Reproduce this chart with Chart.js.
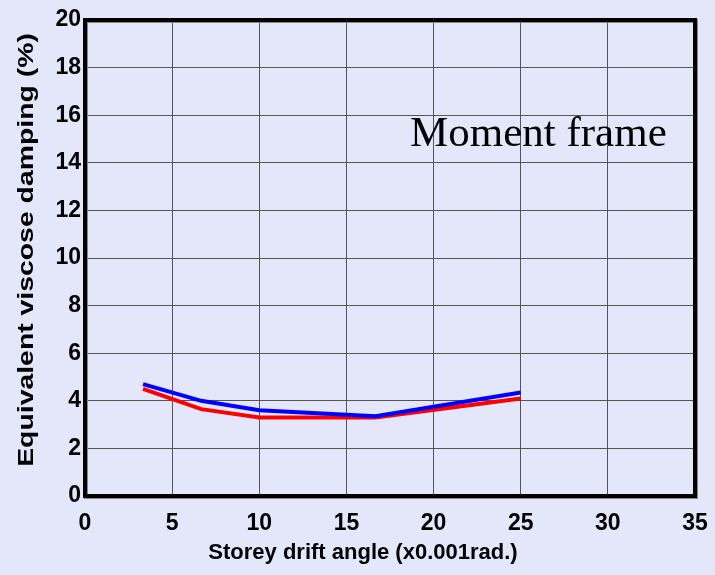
<!DOCTYPE html>
<html>
<head>
<meta charset="utf-8">
<script src="https://cdn.jsdelivr.net/npm/chart.js@4/dist/chart.umd.min.js"></script>
<style>
  html, body { margin: 0; padding: 0; background: #E4E6FA; }
  #wrap { width: 715px; height: 575px; }
</style>
</head>
<body>
<div id="wrap"><canvas id="myChart" width="715" height="575"></canvas></div>
<script>
// drift angle (x0.001 rad)
const drift = [3.33, 6.67, 10, 16.67, 25];
const blueDamping = [4.7, 4.0, 3.6, 3.35, 4.35];
const redDamping = [4.5, 3.65, 3.3, 3.3, 4.1];
const xTicks = [0, 5, 10, 15, 20, 25, 30, 35];
const yTicks = [0, 2, 4, 6, 8, 10, 12, 14, 16, 18, 20];

const tickFont = { family: "'Liberation Sans', Arial", size: 23, weight: 'bold' };

const toPoints = (ys) => drift.map((x, i) => ({ x: x, y: ys[i] }));

// frame, axis titles (placed like the original) and label
const framePlugin = {
    id: 'frame',
    afterDraw(chart) {
        const ctx = chart.ctx;
        const a = chart.chartArea;
        ctx.save();
        ctx.strokeStyle = '#888';
        ctx.lineWidth = 4;
        ctx.strokeRect(a.left + 1, a.top + 1, a.right - a.left, a.bottom - a.top);
        ctx.strokeStyle = '#000';
        ctx.strokeRect(a.left, a.top, a.right - a.left, a.bottom - a.top);

        ctx.fillStyle = '#000';
        ctx.font = "43px 'Liberation Serif', 'Times New Roman', serif";
        ctx.textBaseline = 'alphabetic';
        ctx.fillText('Moment frame', 410, 146);

        ctx.font = "bold 22px 'Liberation Sans', Arial";
        ctx.textAlign = 'center';
        ctx.textBaseline = 'middle';
        ctx.fillText('Storey drift angle (x0.001rad.)', 363, 553);

        ctx.translate(27, 250);
        ctx.rotate(-Math.PI / 2);
        ctx.scale(1.29, 1);
        ctx.fillText('Equivalent viscose damping (%)', 0, 0);
        ctx.restore();
    }
};

const config = {
    type: 'line',
    data: {
        datasets: [{
            label: 'blue',
            data: toPoints(blueDamping),
            borderColor: '#0000FF',
            borderWidth: 4,
            pointRadius: 0,
            tension: 0
        }, {
            label: 'red',
            data: toPoints(redDamping),
            borderColor: '#FF0000',
            borderWidth: 4,
            pointRadius: 0,
            tension: 0
        }]
    },
    options: {
        responsive: false,
        animation: false,
        layout: { padding: { left: 0, right: 20, top: 20, bottom: 0 } },
        plugins: { legend: { display: false }, tooltip: { enabled: false } },
        scales: {
            x: {
                type: 'linear',
                min: 0, max: 35,
                afterBuildTicks: (s) => { s.ticks = xTicks.map(v => ({ value: v })); },
                afterFit: (s) => { s.height = 79; s.paddingLeft = 0; s.paddingRight = 0; },
                grid: { color: '#555', lineWidth: 1, drawTicks: false },
                border: { display: false },
                ticks: { color: '#000', font: tickFont, padding: 14, maxRotation: 0 },
                title: { display: false }
            },
            y: {
                min: 0, max: 20,
                afterBuildTicks: (s) => { s.ticks = yTicks.map(v => ({ value: v })); },
                afterFit: (s) => { s.width = 85; },
                grid: { color: '#555', lineWidth: 1, drawTicks: false },
                border: { display: false },
                ticks: { color: '#000', font: tickFont, padding: 4 },
                title: { display: false }
            }
        }
    },
    plugins: [framePlugin]
};

// build chart
const myChart = new Chart(document.getElementById('myChart'), config);
</script>
</body>
</html>
